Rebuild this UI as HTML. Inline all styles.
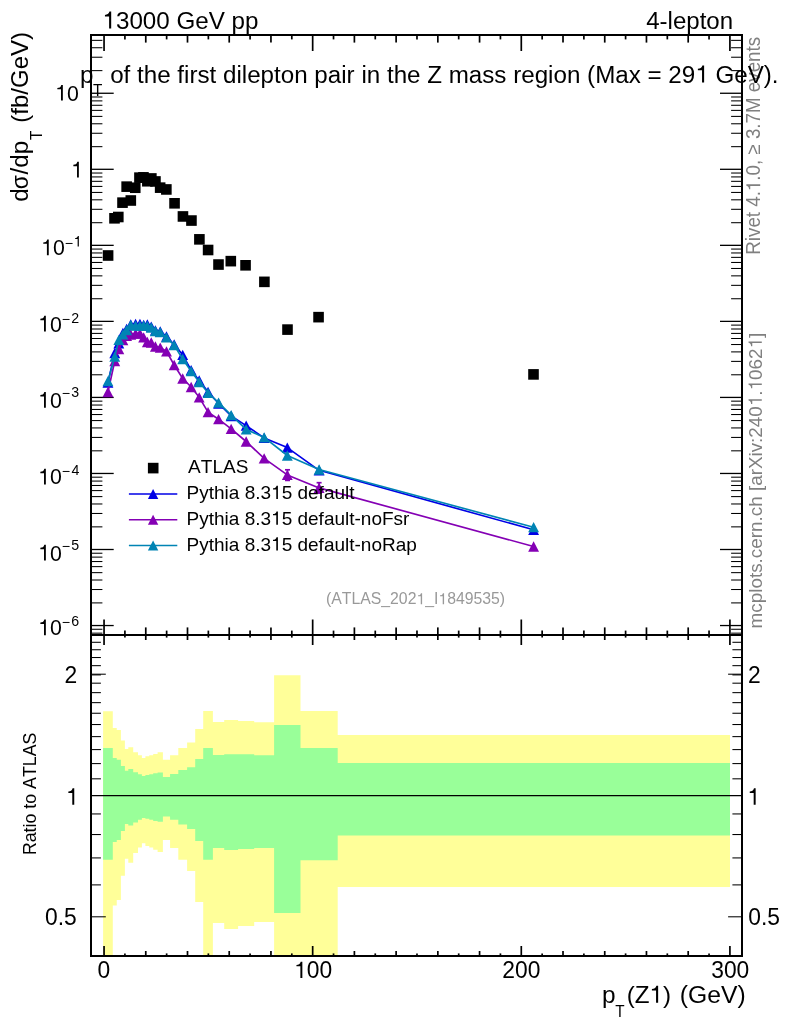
<!DOCTYPE html>
<html><head><meta charset="utf-8"><title>pT(Z1)</title>
<style>html,body{margin:0;padding:0;background:#fff;overflow:hidden;} svg{display:block;will-change:transform;} text{font-family:"Liberation Sans",sans-serif;font-kerning:none;}</style>
</head><body>
<svg width="786" height="1024" viewBox="0 0 786 1024">
<rect width="786" height="1024" fill="#fff"/>
<path d="M103.10,711.20 L112.80,711.20 L112.80,728.10 L116.75,728.10 L116.75,730.10 L120.90,730.10 L120.90,740.50 L124.90,740.50 L124.90,749.00 L128.30,749.00 L128.30,747.20 L133.20,747.20 L133.20,752.20 L138.00,752.20 L138.00,755.20 L141.90,755.20 L141.90,758.10 L145.40,758.10 L145.40,756.20 L149.30,756.20 L149.30,755.20 L153.20,755.20 L153.20,754.00 L157.60,754.00 L157.60,752.20 L162.90,752.20 L162.90,759.80 L170.06,759.80 L170.06,755.20 L178.30,755.20 L178.30,748.00 L187.10,748.00 L187.10,742.50 L195.20,742.50 L195.20,729.10 L203.20,729.10 L203.20,711.00 L212.90,711.00 L212.90,721.90 L224.20,721.90 L224.20,720.10 L238.10,720.10 L238.10,721.00 L254.20,721.00 L254.20,722.20 L274.10,722.20 L274.10,675.30 L300.50,675.30 L300.50,711.00 L337.70,711.00 L337.70,735.00 L730.00,735.00 L730.00,887.00 L337.70,887.00 L337.70,956.00 L300.50,956.00 L300.50,956.00 L274.10,956.00 L274.10,922.00 L254.20,922.00 L254.20,926.00 L238.10,926.00 L238.10,928.90 L224.20,928.90 L224.20,923.00 L212.90,923.00 L212.90,956.00 L203.20,956.00 L203.20,902.00 L195.20,902.00 L195.20,871.00 L187.10,871.00 L187.10,859.80 L178.30,859.80 L178.30,848.00 L170.06,848.00 L170.06,840.00 L162.90,840.00 L162.90,852.00 L157.60,852.00 L157.60,849.70 L153.20,849.70 L153.20,847.50 L149.30,847.50 L149.30,846.10 L145.40,846.10 L145.40,843.20 L141.90,843.20 L141.90,847.50 L138.00,847.50 L138.00,852.90 L133.20,852.90 L133.20,862.80 L128.30,862.80 L128.30,858.80 L124.90,858.80 L124.90,875.80 L120.90,875.80 L120.90,900.00 L116.75,900.00 L116.75,905.50 L112.80,905.50 L112.80,956.00 L103.10,956.00 Z" fill="#ffff99"/>
<path d="M103.10,748.00 L112.80,748.00 L112.80,758.10 L116.75,758.10 L116.75,759.80 L120.90,759.80 L120.90,765.90 L124.90,765.90 L124.90,770.80 L128.30,770.80 L128.30,769.00 L133.20,769.00 L133.20,772.30 L138.00,772.30 L138.00,774.20 L141.90,774.20 L141.90,776.00 L145.40,776.00 L145.40,774.90 L149.30,774.90 L149.30,774.20 L153.20,774.20 L153.20,773.20 L157.60,773.20 L157.60,772.50 L162.90,772.50 L162.90,777.00 L170.06,777.00 L170.06,774.00 L178.30,774.00 L178.30,770.10 L187.10,770.10 L187.10,767.20 L195.20,767.20 L195.20,759.10 L203.20,759.10 L203.20,748.10 L212.90,748.10 L212.90,754.90 L224.20,754.90 L224.20,754.20 L238.10,754.20 L238.10,754.20 L254.20,754.20 L254.20,755.20 L274.10,755.20 L274.10,724.95 L300.50,724.95 L300.50,748.00 L337.70,748.00 L337.70,763.00 L730.00,763.00 L730.00,835.50 L337.70,835.50 L337.70,860.30 L300.50,860.30 L300.50,913.00 L274.10,913.00 L274.10,848.00 L254.20,848.00 L254.20,849.00 L238.10,849.00 L238.10,849.90 L224.20,849.90 L224.20,848.00 L212.90,848.00 L212.90,859.80 L203.20,859.80 L203.20,840.90 L195.20,840.90 L195.20,829.00 L187.10,829.00 L187.10,824.50 L178.30,824.50 L178.30,819.70 L170.06,819.70 L170.06,816.50 L162.90,816.50 L162.90,821.80 L157.60,821.80 L157.60,820.90 L153.20,820.90 L153.20,819.70 L149.30,819.70 L149.30,818.80 L145.40,818.80 L145.40,817.90 L141.90,817.90 L141.90,819.70 L138.00,819.70 L138.00,822.40 L133.20,822.40 L133.20,825.60 L128.30,825.60 L128.30,824.10 L124.90,824.10 L124.90,831.10 L120.90,831.10 L120.90,840.10 L116.75,840.10 L116.75,842.00 L112.80,842.00 L112.80,859.70 L103.10,859.70 Z" fill="#99ff99"/>
<line x1="91.0" y1="795.6" x2="742.0" y2="795.6" stroke="#000" stroke-width="1.3"/>
<line x1="104.05" y1="35.00" x2="104.05" y2="51.00" stroke="#000" stroke-width="1.7"/>
<line x1="104.05" y1="619.50" x2="104.05" y2="635.00" stroke="#000" stroke-width="1.7"/>
<line x1="124.91" y1="35.00" x2="124.91" y2="39.40" stroke="#000" stroke-width="1.7"/>
<line x1="124.91" y1="630.60" x2="124.91" y2="635.00" stroke="#000" stroke-width="1.7"/>
<line x1="145.77" y1="35.00" x2="145.77" y2="42.60" stroke="#000" stroke-width="1.7"/>
<line x1="145.77" y1="627.40" x2="145.77" y2="635.00" stroke="#000" stroke-width="1.7"/>
<line x1="166.64" y1="35.00" x2="166.64" y2="39.40" stroke="#000" stroke-width="1.7"/>
<line x1="166.64" y1="630.60" x2="166.64" y2="635.00" stroke="#000" stroke-width="1.7"/>
<line x1="187.50" y1="35.00" x2="187.50" y2="42.60" stroke="#000" stroke-width="1.7"/>
<line x1="187.50" y1="627.40" x2="187.50" y2="635.00" stroke="#000" stroke-width="1.7"/>
<line x1="208.36" y1="35.00" x2="208.36" y2="39.40" stroke="#000" stroke-width="1.7"/>
<line x1="208.36" y1="630.60" x2="208.36" y2="635.00" stroke="#000" stroke-width="1.7"/>
<line x1="229.22" y1="35.00" x2="229.22" y2="42.60" stroke="#000" stroke-width="1.7"/>
<line x1="229.22" y1="627.40" x2="229.22" y2="635.00" stroke="#000" stroke-width="1.7"/>
<line x1="250.08" y1="35.00" x2="250.08" y2="39.40" stroke="#000" stroke-width="1.7"/>
<line x1="250.08" y1="630.60" x2="250.08" y2="635.00" stroke="#000" stroke-width="1.7"/>
<line x1="270.95" y1="35.00" x2="270.95" y2="42.60" stroke="#000" stroke-width="1.7"/>
<line x1="270.95" y1="627.40" x2="270.95" y2="635.00" stroke="#000" stroke-width="1.7"/>
<line x1="291.81" y1="35.00" x2="291.81" y2="39.40" stroke="#000" stroke-width="1.7"/>
<line x1="291.81" y1="630.60" x2="291.81" y2="635.00" stroke="#000" stroke-width="1.7"/>
<line x1="312.67" y1="35.00" x2="312.67" y2="51.00" stroke="#000" stroke-width="1.7"/>
<line x1="312.67" y1="619.50" x2="312.67" y2="635.00" stroke="#000" stroke-width="1.7"/>
<line x1="333.53" y1="35.00" x2="333.53" y2="39.40" stroke="#000" stroke-width="1.7"/>
<line x1="333.53" y1="630.60" x2="333.53" y2="635.00" stroke="#000" stroke-width="1.7"/>
<line x1="354.39" y1="35.00" x2="354.39" y2="42.60" stroke="#000" stroke-width="1.7"/>
<line x1="354.39" y1="627.40" x2="354.39" y2="635.00" stroke="#000" stroke-width="1.7"/>
<line x1="375.26" y1="35.00" x2="375.26" y2="39.40" stroke="#000" stroke-width="1.7"/>
<line x1="375.26" y1="630.60" x2="375.26" y2="635.00" stroke="#000" stroke-width="1.7"/>
<line x1="396.12" y1="35.00" x2="396.12" y2="42.60" stroke="#000" stroke-width="1.7"/>
<line x1="396.12" y1="627.40" x2="396.12" y2="635.00" stroke="#000" stroke-width="1.7"/>
<line x1="416.98" y1="35.00" x2="416.98" y2="39.40" stroke="#000" stroke-width="1.7"/>
<line x1="416.98" y1="630.60" x2="416.98" y2="635.00" stroke="#000" stroke-width="1.7"/>
<line x1="437.84" y1="35.00" x2="437.84" y2="42.60" stroke="#000" stroke-width="1.7"/>
<line x1="437.84" y1="627.40" x2="437.84" y2="635.00" stroke="#000" stroke-width="1.7"/>
<line x1="458.70" y1="35.00" x2="458.70" y2="39.40" stroke="#000" stroke-width="1.7"/>
<line x1="458.70" y1="630.60" x2="458.70" y2="635.00" stroke="#000" stroke-width="1.7"/>
<line x1="479.57" y1="35.00" x2="479.57" y2="42.60" stroke="#000" stroke-width="1.7"/>
<line x1="479.57" y1="627.40" x2="479.57" y2="635.00" stroke="#000" stroke-width="1.7"/>
<line x1="500.43" y1="35.00" x2="500.43" y2="39.40" stroke="#000" stroke-width="1.7"/>
<line x1="500.43" y1="630.60" x2="500.43" y2="635.00" stroke="#000" stroke-width="1.7"/>
<line x1="521.29" y1="35.00" x2="521.29" y2="51.00" stroke="#000" stroke-width="1.7"/>
<line x1="521.29" y1="619.50" x2="521.29" y2="635.00" stroke="#000" stroke-width="1.7"/>
<line x1="542.15" y1="35.00" x2="542.15" y2="39.40" stroke="#000" stroke-width="1.7"/>
<line x1="542.15" y1="630.60" x2="542.15" y2="635.00" stroke="#000" stroke-width="1.7"/>
<line x1="563.01" y1="35.00" x2="563.01" y2="42.60" stroke="#000" stroke-width="1.7"/>
<line x1="563.01" y1="627.40" x2="563.01" y2="635.00" stroke="#000" stroke-width="1.7"/>
<line x1="583.88" y1="35.00" x2="583.88" y2="39.40" stroke="#000" stroke-width="1.7"/>
<line x1="583.88" y1="630.60" x2="583.88" y2="635.00" stroke="#000" stroke-width="1.7"/>
<line x1="604.74" y1="35.00" x2="604.74" y2="42.60" stroke="#000" stroke-width="1.7"/>
<line x1="604.74" y1="627.40" x2="604.74" y2="635.00" stroke="#000" stroke-width="1.7"/>
<line x1="625.60" y1="35.00" x2="625.60" y2="39.40" stroke="#000" stroke-width="1.7"/>
<line x1="625.60" y1="630.60" x2="625.60" y2="635.00" stroke="#000" stroke-width="1.7"/>
<line x1="646.46" y1="35.00" x2="646.46" y2="42.60" stroke="#000" stroke-width="1.7"/>
<line x1="646.46" y1="627.40" x2="646.46" y2="635.00" stroke="#000" stroke-width="1.7"/>
<line x1="667.32" y1="35.00" x2="667.32" y2="39.40" stroke="#000" stroke-width="1.7"/>
<line x1="667.32" y1="630.60" x2="667.32" y2="635.00" stroke="#000" stroke-width="1.7"/>
<line x1="688.19" y1="35.00" x2="688.19" y2="42.60" stroke="#000" stroke-width="1.7"/>
<line x1="688.19" y1="627.40" x2="688.19" y2="635.00" stroke="#000" stroke-width="1.7"/>
<line x1="709.05" y1="35.00" x2="709.05" y2="39.40" stroke="#000" stroke-width="1.7"/>
<line x1="709.05" y1="630.60" x2="709.05" y2="635.00" stroke="#000" stroke-width="1.7"/>
<line x1="729.91" y1="35.00" x2="729.91" y2="51.00" stroke="#000" stroke-width="1.7"/>
<line x1="729.91" y1="619.50" x2="729.91" y2="635.00" stroke="#000" stroke-width="1.7"/>
<line x1="104.05" y1="635.00" x2="104.05" y2="645.00" stroke="#000" stroke-width="1.7"/>
<line x1="104.05" y1="946.00" x2="104.05" y2="956.00" stroke="#000" stroke-width="1.7"/>
<line x1="124.91" y1="635.00" x2="124.91" y2="637.60" stroke="#000" stroke-width="1.7"/>
<line x1="124.91" y1="953.40" x2="124.91" y2="956.00" stroke="#000" stroke-width="1.7"/>
<line x1="145.77" y1="635.00" x2="145.77" y2="640.00" stroke="#000" stroke-width="1.7"/>
<line x1="145.77" y1="951.00" x2="145.77" y2="956.00" stroke="#000" stroke-width="1.7"/>
<line x1="166.64" y1="635.00" x2="166.64" y2="637.60" stroke="#000" stroke-width="1.7"/>
<line x1="166.64" y1="953.40" x2="166.64" y2="956.00" stroke="#000" stroke-width="1.7"/>
<line x1="187.50" y1="635.00" x2="187.50" y2="640.00" stroke="#000" stroke-width="1.7"/>
<line x1="187.50" y1="951.00" x2="187.50" y2="956.00" stroke="#000" stroke-width="1.7"/>
<line x1="208.36" y1="635.00" x2="208.36" y2="637.60" stroke="#000" stroke-width="1.7"/>
<line x1="208.36" y1="953.40" x2="208.36" y2="956.00" stroke="#000" stroke-width="1.7"/>
<line x1="229.22" y1="635.00" x2="229.22" y2="640.00" stroke="#000" stroke-width="1.7"/>
<line x1="229.22" y1="951.00" x2="229.22" y2="956.00" stroke="#000" stroke-width="1.7"/>
<line x1="250.08" y1="635.00" x2="250.08" y2="637.60" stroke="#000" stroke-width="1.7"/>
<line x1="250.08" y1="953.40" x2="250.08" y2="956.00" stroke="#000" stroke-width="1.7"/>
<line x1="270.95" y1="635.00" x2="270.95" y2="640.00" stroke="#000" stroke-width="1.7"/>
<line x1="270.95" y1="951.00" x2="270.95" y2="956.00" stroke="#000" stroke-width="1.7"/>
<line x1="291.81" y1="635.00" x2="291.81" y2="637.60" stroke="#000" stroke-width="1.7"/>
<line x1="291.81" y1="953.40" x2="291.81" y2="956.00" stroke="#000" stroke-width="1.7"/>
<line x1="312.67" y1="635.00" x2="312.67" y2="645.00" stroke="#000" stroke-width="1.7"/>
<line x1="312.67" y1="946.00" x2="312.67" y2="956.00" stroke="#000" stroke-width="1.7"/>
<line x1="333.53" y1="635.00" x2="333.53" y2="637.60" stroke="#000" stroke-width="1.7"/>
<line x1="333.53" y1="953.40" x2="333.53" y2="956.00" stroke="#000" stroke-width="1.7"/>
<line x1="354.39" y1="635.00" x2="354.39" y2="640.00" stroke="#000" stroke-width="1.7"/>
<line x1="354.39" y1="951.00" x2="354.39" y2="956.00" stroke="#000" stroke-width="1.7"/>
<line x1="375.26" y1="635.00" x2="375.26" y2="637.60" stroke="#000" stroke-width="1.7"/>
<line x1="375.26" y1="953.40" x2="375.26" y2="956.00" stroke="#000" stroke-width="1.7"/>
<line x1="396.12" y1="635.00" x2="396.12" y2="640.00" stroke="#000" stroke-width="1.7"/>
<line x1="396.12" y1="951.00" x2="396.12" y2="956.00" stroke="#000" stroke-width="1.7"/>
<line x1="416.98" y1="635.00" x2="416.98" y2="637.60" stroke="#000" stroke-width="1.7"/>
<line x1="416.98" y1="953.40" x2="416.98" y2="956.00" stroke="#000" stroke-width="1.7"/>
<line x1="437.84" y1="635.00" x2="437.84" y2="640.00" stroke="#000" stroke-width="1.7"/>
<line x1="437.84" y1="951.00" x2="437.84" y2="956.00" stroke="#000" stroke-width="1.7"/>
<line x1="458.70" y1="635.00" x2="458.70" y2="637.60" stroke="#000" stroke-width="1.7"/>
<line x1="458.70" y1="953.40" x2="458.70" y2="956.00" stroke="#000" stroke-width="1.7"/>
<line x1="479.57" y1="635.00" x2="479.57" y2="640.00" stroke="#000" stroke-width="1.7"/>
<line x1="479.57" y1="951.00" x2="479.57" y2="956.00" stroke="#000" stroke-width="1.7"/>
<line x1="500.43" y1="635.00" x2="500.43" y2="637.60" stroke="#000" stroke-width="1.7"/>
<line x1="500.43" y1="953.40" x2="500.43" y2="956.00" stroke="#000" stroke-width="1.7"/>
<line x1="521.29" y1="635.00" x2="521.29" y2="645.00" stroke="#000" stroke-width="1.7"/>
<line x1="521.29" y1="946.00" x2="521.29" y2="956.00" stroke="#000" stroke-width="1.7"/>
<line x1="542.15" y1="635.00" x2="542.15" y2="637.60" stroke="#000" stroke-width="1.7"/>
<line x1="542.15" y1="953.40" x2="542.15" y2="956.00" stroke="#000" stroke-width="1.7"/>
<line x1="563.01" y1="635.00" x2="563.01" y2="640.00" stroke="#000" stroke-width="1.7"/>
<line x1="563.01" y1="951.00" x2="563.01" y2="956.00" stroke="#000" stroke-width="1.7"/>
<line x1="583.88" y1="635.00" x2="583.88" y2="637.60" stroke="#000" stroke-width="1.7"/>
<line x1="583.88" y1="953.40" x2="583.88" y2="956.00" stroke="#000" stroke-width="1.7"/>
<line x1="604.74" y1="635.00" x2="604.74" y2="640.00" stroke="#000" stroke-width="1.7"/>
<line x1="604.74" y1="951.00" x2="604.74" y2="956.00" stroke="#000" stroke-width="1.7"/>
<line x1="625.60" y1="635.00" x2="625.60" y2="637.60" stroke="#000" stroke-width="1.7"/>
<line x1="625.60" y1="953.40" x2="625.60" y2="956.00" stroke="#000" stroke-width="1.7"/>
<line x1="646.46" y1="635.00" x2="646.46" y2="640.00" stroke="#000" stroke-width="1.7"/>
<line x1="646.46" y1="951.00" x2="646.46" y2="956.00" stroke="#000" stroke-width="1.7"/>
<line x1="667.32" y1="635.00" x2="667.32" y2="637.60" stroke="#000" stroke-width="1.7"/>
<line x1="667.32" y1="953.40" x2="667.32" y2="956.00" stroke="#000" stroke-width="1.7"/>
<line x1="688.19" y1="635.00" x2="688.19" y2="640.00" stroke="#000" stroke-width="1.7"/>
<line x1="688.19" y1="951.00" x2="688.19" y2="956.00" stroke="#000" stroke-width="1.7"/>
<line x1="709.05" y1="635.00" x2="709.05" y2="637.60" stroke="#000" stroke-width="1.7"/>
<line x1="709.05" y1="953.40" x2="709.05" y2="956.00" stroke="#000" stroke-width="1.7"/>
<line x1="729.91" y1="635.00" x2="729.91" y2="645.00" stroke="#000" stroke-width="1.7"/>
<line x1="729.91" y1="946.00" x2="729.91" y2="956.00" stroke="#000" stroke-width="1.7"/>
<line x1="91.00" y1="633.16" x2="102.40" y2="633.16" stroke="#000" stroke-width="1.05"/>
<line x1="731.10" y1="633.16" x2="742.00" y2="633.16" stroke="#000" stroke-width="1.05"/>
<line x1="91.00" y1="629.27" x2="102.40" y2="629.27" stroke="#000" stroke-width="1.05"/>
<line x1="731.10" y1="629.27" x2="742.00" y2="629.27" stroke="#000" stroke-width="1.05"/>
<line x1="91.00" y1="625.54" x2="113.70" y2="625.54" stroke="#000" stroke-width="1.3"/>
<line x1="720.00" y1="625.54" x2="742.00" y2="625.54" stroke="#000" stroke-width="1.3"/>
<line x1="91.00" y1="602.90" x2="102.40" y2="602.90" stroke="#000" stroke-width="1.05"/>
<line x1="731.10" y1="602.90" x2="742.00" y2="602.90" stroke="#000" stroke-width="1.05"/>
<line x1="91.00" y1="589.51" x2="102.40" y2="589.51" stroke="#000" stroke-width="1.05"/>
<line x1="731.10" y1="589.51" x2="742.00" y2="589.51" stroke="#000" stroke-width="1.05"/>
<line x1="91.00" y1="580.01" x2="102.40" y2="580.01" stroke="#000" stroke-width="1.05"/>
<line x1="731.10" y1="580.01" x2="742.00" y2="580.01" stroke="#000" stroke-width="1.05"/>
<line x1="91.00" y1="572.64" x2="102.40" y2="572.64" stroke="#000" stroke-width="1.05"/>
<line x1="731.10" y1="572.64" x2="742.00" y2="572.64" stroke="#000" stroke-width="1.05"/>
<line x1="91.00" y1="566.62" x2="102.40" y2="566.62" stroke="#000" stroke-width="1.05"/>
<line x1="731.10" y1="566.62" x2="742.00" y2="566.62" stroke="#000" stroke-width="1.05"/>
<line x1="91.00" y1="561.53" x2="102.40" y2="561.53" stroke="#000" stroke-width="1.05"/>
<line x1="731.10" y1="561.53" x2="742.00" y2="561.53" stroke="#000" stroke-width="1.05"/>
<line x1="91.00" y1="557.12" x2="102.40" y2="557.12" stroke="#000" stroke-width="1.05"/>
<line x1="731.10" y1="557.12" x2="742.00" y2="557.12" stroke="#000" stroke-width="1.05"/>
<line x1="91.00" y1="553.23" x2="102.40" y2="553.23" stroke="#000" stroke-width="1.05"/>
<line x1="731.10" y1="553.23" x2="742.00" y2="553.23" stroke="#000" stroke-width="1.05"/>
<line x1="91.00" y1="549.50" x2="113.70" y2="549.50" stroke="#000" stroke-width="1.3"/>
<line x1="720.00" y1="549.50" x2="742.00" y2="549.50" stroke="#000" stroke-width="1.3"/>
<line x1="91.00" y1="526.86" x2="102.40" y2="526.86" stroke="#000" stroke-width="1.05"/>
<line x1="731.10" y1="526.86" x2="742.00" y2="526.86" stroke="#000" stroke-width="1.05"/>
<line x1="91.00" y1="513.47" x2="102.40" y2="513.47" stroke="#000" stroke-width="1.05"/>
<line x1="731.10" y1="513.47" x2="742.00" y2="513.47" stroke="#000" stroke-width="1.05"/>
<line x1="91.00" y1="503.97" x2="102.40" y2="503.97" stroke="#000" stroke-width="1.05"/>
<line x1="731.10" y1="503.97" x2="742.00" y2="503.97" stroke="#000" stroke-width="1.05"/>
<line x1="91.00" y1="496.60" x2="102.40" y2="496.60" stroke="#000" stroke-width="1.05"/>
<line x1="731.10" y1="496.60" x2="742.00" y2="496.60" stroke="#000" stroke-width="1.05"/>
<line x1="91.00" y1="490.58" x2="102.40" y2="490.58" stroke="#000" stroke-width="1.05"/>
<line x1="731.10" y1="490.58" x2="742.00" y2="490.58" stroke="#000" stroke-width="1.05"/>
<line x1="91.00" y1="485.49" x2="102.40" y2="485.49" stroke="#000" stroke-width="1.05"/>
<line x1="731.10" y1="485.49" x2="742.00" y2="485.49" stroke="#000" stroke-width="1.05"/>
<line x1="91.00" y1="481.08" x2="102.40" y2="481.08" stroke="#000" stroke-width="1.05"/>
<line x1="731.10" y1="481.08" x2="742.00" y2="481.08" stroke="#000" stroke-width="1.05"/>
<line x1="91.00" y1="477.19" x2="102.40" y2="477.19" stroke="#000" stroke-width="1.05"/>
<line x1="731.10" y1="477.19" x2="742.00" y2="477.19" stroke="#000" stroke-width="1.05"/>
<line x1="91.00" y1="473.46" x2="113.70" y2="473.46" stroke="#000" stroke-width="1.3"/>
<line x1="720.00" y1="473.46" x2="742.00" y2="473.46" stroke="#000" stroke-width="1.3"/>
<line x1="91.00" y1="450.82" x2="102.40" y2="450.82" stroke="#000" stroke-width="1.05"/>
<line x1="731.10" y1="450.82" x2="742.00" y2="450.82" stroke="#000" stroke-width="1.05"/>
<line x1="91.00" y1="437.43" x2="102.40" y2="437.43" stroke="#000" stroke-width="1.05"/>
<line x1="731.10" y1="437.43" x2="742.00" y2="437.43" stroke="#000" stroke-width="1.05"/>
<line x1="91.00" y1="427.93" x2="102.40" y2="427.93" stroke="#000" stroke-width="1.05"/>
<line x1="731.10" y1="427.93" x2="742.00" y2="427.93" stroke="#000" stroke-width="1.05"/>
<line x1="91.00" y1="420.56" x2="102.40" y2="420.56" stroke="#000" stroke-width="1.05"/>
<line x1="731.10" y1="420.56" x2="742.00" y2="420.56" stroke="#000" stroke-width="1.05"/>
<line x1="91.00" y1="414.54" x2="102.40" y2="414.54" stroke="#000" stroke-width="1.05"/>
<line x1="731.10" y1="414.54" x2="742.00" y2="414.54" stroke="#000" stroke-width="1.05"/>
<line x1="91.00" y1="409.45" x2="102.40" y2="409.45" stroke="#000" stroke-width="1.05"/>
<line x1="731.10" y1="409.45" x2="742.00" y2="409.45" stroke="#000" stroke-width="1.05"/>
<line x1="91.00" y1="405.04" x2="102.40" y2="405.04" stroke="#000" stroke-width="1.05"/>
<line x1="731.10" y1="405.04" x2="742.00" y2="405.04" stroke="#000" stroke-width="1.05"/>
<line x1="91.00" y1="401.15" x2="102.40" y2="401.15" stroke="#000" stroke-width="1.05"/>
<line x1="731.10" y1="401.15" x2="742.00" y2="401.15" stroke="#000" stroke-width="1.05"/>
<line x1="91.00" y1="397.42" x2="113.70" y2="397.42" stroke="#000" stroke-width="1.3"/>
<line x1="720.00" y1="397.42" x2="742.00" y2="397.42" stroke="#000" stroke-width="1.3"/>
<line x1="91.00" y1="374.78" x2="102.40" y2="374.78" stroke="#000" stroke-width="1.05"/>
<line x1="731.10" y1="374.78" x2="742.00" y2="374.78" stroke="#000" stroke-width="1.05"/>
<line x1="91.00" y1="361.39" x2="102.40" y2="361.39" stroke="#000" stroke-width="1.05"/>
<line x1="731.10" y1="361.39" x2="742.00" y2="361.39" stroke="#000" stroke-width="1.05"/>
<line x1="91.00" y1="351.89" x2="102.40" y2="351.89" stroke="#000" stroke-width="1.05"/>
<line x1="731.10" y1="351.89" x2="742.00" y2="351.89" stroke="#000" stroke-width="1.05"/>
<line x1="91.00" y1="344.52" x2="102.40" y2="344.52" stroke="#000" stroke-width="1.05"/>
<line x1="731.10" y1="344.52" x2="742.00" y2="344.52" stroke="#000" stroke-width="1.05"/>
<line x1="91.00" y1="338.50" x2="102.40" y2="338.50" stroke="#000" stroke-width="1.05"/>
<line x1="731.10" y1="338.50" x2="742.00" y2="338.50" stroke="#000" stroke-width="1.05"/>
<line x1="91.00" y1="333.41" x2="102.40" y2="333.41" stroke="#000" stroke-width="1.05"/>
<line x1="731.10" y1="333.41" x2="742.00" y2="333.41" stroke="#000" stroke-width="1.05"/>
<line x1="91.00" y1="329.00" x2="102.40" y2="329.00" stroke="#000" stroke-width="1.05"/>
<line x1="731.10" y1="329.00" x2="742.00" y2="329.00" stroke="#000" stroke-width="1.05"/>
<line x1="91.00" y1="325.11" x2="102.40" y2="325.11" stroke="#000" stroke-width="1.05"/>
<line x1="731.10" y1="325.11" x2="742.00" y2="325.11" stroke="#000" stroke-width="1.05"/>
<line x1="91.00" y1="321.38" x2="113.70" y2="321.38" stroke="#000" stroke-width="1.3"/>
<line x1="720.00" y1="321.38" x2="742.00" y2="321.38" stroke="#000" stroke-width="1.3"/>
<line x1="91.00" y1="298.74" x2="102.40" y2="298.74" stroke="#000" stroke-width="1.05"/>
<line x1="731.10" y1="298.74" x2="742.00" y2="298.74" stroke="#000" stroke-width="1.05"/>
<line x1="91.00" y1="285.35" x2="102.40" y2="285.35" stroke="#000" stroke-width="1.05"/>
<line x1="731.10" y1="285.35" x2="742.00" y2="285.35" stroke="#000" stroke-width="1.05"/>
<line x1="91.00" y1="275.85" x2="102.40" y2="275.85" stroke="#000" stroke-width="1.05"/>
<line x1="731.10" y1="275.85" x2="742.00" y2="275.85" stroke="#000" stroke-width="1.05"/>
<line x1="91.00" y1="268.48" x2="102.40" y2="268.48" stroke="#000" stroke-width="1.05"/>
<line x1="731.10" y1="268.48" x2="742.00" y2="268.48" stroke="#000" stroke-width="1.05"/>
<line x1="91.00" y1="262.46" x2="102.40" y2="262.46" stroke="#000" stroke-width="1.05"/>
<line x1="731.10" y1="262.46" x2="742.00" y2="262.46" stroke="#000" stroke-width="1.05"/>
<line x1="91.00" y1="257.37" x2="102.40" y2="257.37" stroke="#000" stroke-width="1.05"/>
<line x1="731.10" y1="257.37" x2="742.00" y2="257.37" stroke="#000" stroke-width="1.05"/>
<line x1="91.00" y1="252.96" x2="102.40" y2="252.96" stroke="#000" stroke-width="1.05"/>
<line x1="731.10" y1="252.96" x2="742.00" y2="252.96" stroke="#000" stroke-width="1.05"/>
<line x1="91.00" y1="249.07" x2="102.40" y2="249.07" stroke="#000" stroke-width="1.05"/>
<line x1="731.10" y1="249.07" x2="742.00" y2="249.07" stroke="#000" stroke-width="1.05"/>
<line x1="91.00" y1="245.34" x2="113.70" y2="245.34" stroke="#000" stroke-width="1.3"/>
<line x1="720.00" y1="245.34" x2="742.00" y2="245.34" stroke="#000" stroke-width="1.3"/>
<line x1="91.00" y1="222.70" x2="102.40" y2="222.70" stroke="#000" stroke-width="1.05"/>
<line x1="731.10" y1="222.70" x2="742.00" y2="222.70" stroke="#000" stroke-width="1.05"/>
<line x1="91.00" y1="209.31" x2="102.40" y2="209.31" stroke="#000" stroke-width="1.05"/>
<line x1="731.10" y1="209.31" x2="742.00" y2="209.31" stroke="#000" stroke-width="1.05"/>
<line x1="91.00" y1="199.81" x2="102.40" y2="199.81" stroke="#000" stroke-width="1.05"/>
<line x1="731.10" y1="199.81" x2="742.00" y2="199.81" stroke="#000" stroke-width="1.05"/>
<line x1="91.00" y1="192.44" x2="102.40" y2="192.44" stroke="#000" stroke-width="1.05"/>
<line x1="731.10" y1="192.44" x2="742.00" y2="192.44" stroke="#000" stroke-width="1.05"/>
<line x1="91.00" y1="186.42" x2="102.40" y2="186.42" stroke="#000" stroke-width="1.05"/>
<line x1="731.10" y1="186.42" x2="742.00" y2="186.42" stroke="#000" stroke-width="1.05"/>
<line x1="91.00" y1="181.33" x2="102.40" y2="181.33" stroke="#000" stroke-width="1.05"/>
<line x1="731.10" y1="181.33" x2="742.00" y2="181.33" stroke="#000" stroke-width="1.05"/>
<line x1="91.00" y1="176.92" x2="102.40" y2="176.92" stroke="#000" stroke-width="1.05"/>
<line x1="731.10" y1="176.92" x2="742.00" y2="176.92" stroke="#000" stroke-width="1.05"/>
<line x1="91.00" y1="173.03" x2="102.40" y2="173.03" stroke="#000" stroke-width="1.05"/>
<line x1="731.10" y1="173.03" x2="742.00" y2="173.03" stroke="#000" stroke-width="1.05"/>
<line x1="91.00" y1="169.30" x2="113.70" y2="169.30" stroke="#000" stroke-width="1.3"/>
<line x1="720.00" y1="169.30" x2="742.00" y2="169.30" stroke="#000" stroke-width="1.3"/>
<line x1="91.00" y1="146.66" x2="102.40" y2="146.66" stroke="#000" stroke-width="1.05"/>
<line x1="731.10" y1="146.66" x2="742.00" y2="146.66" stroke="#000" stroke-width="1.05"/>
<line x1="91.00" y1="133.27" x2="102.40" y2="133.27" stroke="#000" stroke-width="1.05"/>
<line x1="731.10" y1="133.27" x2="742.00" y2="133.27" stroke="#000" stroke-width="1.05"/>
<line x1="91.00" y1="123.77" x2="102.40" y2="123.77" stroke="#000" stroke-width="1.05"/>
<line x1="731.10" y1="123.77" x2="742.00" y2="123.77" stroke="#000" stroke-width="1.05"/>
<line x1="91.00" y1="116.40" x2="102.40" y2="116.40" stroke="#000" stroke-width="1.05"/>
<line x1="731.10" y1="116.40" x2="742.00" y2="116.40" stroke="#000" stroke-width="1.05"/>
<line x1="91.00" y1="110.38" x2="102.40" y2="110.38" stroke="#000" stroke-width="1.05"/>
<line x1="731.10" y1="110.38" x2="742.00" y2="110.38" stroke="#000" stroke-width="1.05"/>
<line x1="91.00" y1="105.29" x2="102.40" y2="105.29" stroke="#000" stroke-width="1.05"/>
<line x1="731.10" y1="105.29" x2="742.00" y2="105.29" stroke="#000" stroke-width="1.05"/>
<line x1="91.00" y1="100.88" x2="102.40" y2="100.88" stroke="#000" stroke-width="1.05"/>
<line x1="731.10" y1="100.88" x2="742.00" y2="100.88" stroke="#000" stroke-width="1.05"/>
<line x1="91.00" y1="96.99" x2="102.40" y2="96.99" stroke="#000" stroke-width="1.05"/>
<line x1="731.10" y1="96.99" x2="742.00" y2="96.99" stroke="#000" stroke-width="1.05"/>
<line x1="91.00" y1="93.26" x2="113.70" y2="93.26" stroke="#000" stroke-width="1.3"/>
<line x1="720.00" y1="93.26" x2="742.00" y2="93.26" stroke="#000" stroke-width="1.3"/>
<line x1="91.00" y1="70.62" x2="102.40" y2="70.62" stroke="#000" stroke-width="1.05"/>
<line x1="731.10" y1="70.62" x2="742.00" y2="70.62" stroke="#000" stroke-width="1.05"/>
<line x1="91.00" y1="57.23" x2="102.40" y2="57.23" stroke="#000" stroke-width="1.05"/>
<line x1="731.10" y1="57.23" x2="742.00" y2="57.23" stroke="#000" stroke-width="1.05"/>
<line x1="91.00" y1="47.73" x2="102.40" y2="47.73" stroke="#000" stroke-width="1.05"/>
<line x1="731.10" y1="47.73" x2="742.00" y2="47.73" stroke="#000" stroke-width="1.05"/>
<line x1="91.00" y1="40.36" x2="102.40" y2="40.36" stroke="#000" stroke-width="1.05"/>
<line x1="731.10" y1="40.36" x2="742.00" y2="40.36" stroke="#000" stroke-width="1.05"/>
<line x1="91.00" y1="916.80" x2="105.80" y2="916.80" stroke="#000" stroke-width="1.05"/>
<line x1="728.10" y1="916.80" x2="742.00" y2="916.80" stroke="#000" stroke-width="1.05"/>
<line x1="91.00" y1="884.89" x2="100.90" y2="884.89" stroke="#000" stroke-width="1.05"/>
<line x1="732.40" y1="884.89" x2="742.00" y2="884.89" stroke="#000" stroke-width="1.05"/>
<line x1="91.00" y1="857.92" x2="100.90" y2="857.92" stroke="#000" stroke-width="1.05"/>
<line x1="732.40" y1="857.92" x2="742.00" y2="857.92" stroke="#000" stroke-width="1.05"/>
<line x1="91.00" y1="834.55" x2="100.90" y2="834.55" stroke="#000" stroke-width="1.05"/>
<line x1="732.40" y1="834.55" x2="742.00" y2="834.55" stroke="#000" stroke-width="1.05"/>
<line x1="91.00" y1="813.94" x2="100.90" y2="813.94" stroke="#000" stroke-width="1.05"/>
<line x1="732.40" y1="813.94" x2="742.00" y2="813.94" stroke="#000" stroke-width="1.05"/>
<line x1="91.00" y1="795.50" x2="105.80" y2="795.50" stroke="#000" stroke-width="1.05"/>
<line x1="728.10" y1="795.50" x2="742.00" y2="795.50" stroke="#000" stroke-width="1.05"/>
<line x1="91.00" y1="778.82" x2="100.90" y2="778.82" stroke="#000" stroke-width="1.05"/>
<line x1="732.40" y1="778.82" x2="742.00" y2="778.82" stroke="#000" stroke-width="1.05"/>
<line x1="91.00" y1="763.59" x2="100.90" y2="763.59" stroke="#000" stroke-width="1.05"/>
<line x1="732.40" y1="763.59" x2="742.00" y2="763.59" stroke="#000" stroke-width="1.05"/>
<line x1="91.00" y1="749.59" x2="100.90" y2="749.59" stroke="#000" stroke-width="1.05"/>
<line x1="732.40" y1="749.59" x2="742.00" y2="749.59" stroke="#000" stroke-width="1.05"/>
<line x1="91.00" y1="736.62" x2="100.90" y2="736.62" stroke="#000" stroke-width="1.05"/>
<line x1="732.40" y1="736.62" x2="742.00" y2="736.62" stroke="#000" stroke-width="1.05"/>
<line x1="91.00" y1="724.54" x2="100.90" y2="724.54" stroke="#000" stroke-width="1.05"/>
<line x1="732.40" y1="724.54" x2="742.00" y2="724.54" stroke="#000" stroke-width="1.05"/>
<line x1="91.00" y1="713.25" x2="100.90" y2="713.25" stroke="#000" stroke-width="1.05"/>
<line x1="732.40" y1="713.25" x2="742.00" y2="713.25" stroke="#000" stroke-width="1.05"/>
<line x1="91.00" y1="702.64" x2="100.90" y2="702.64" stroke="#000" stroke-width="1.05"/>
<line x1="732.40" y1="702.64" x2="742.00" y2="702.64" stroke="#000" stroke-width="1.05"/>
<line x1="91.00" y1="692.64" x2="100.90" y2="692.64" stroke="#000" stroke-width="1.05"/>
<line x1="732.40" y1="692.64" x2="742.00" y2="692.64" stroke="#000" stroke-width="1.05"/>
<line x1="91.00" y1="683.18" x2="100.90" y2="683.18" stroke="#000" stroke-width="1.05"/>
<line x1="732.40" y1="683.18" x2="742.00" y2="683.18" stroke="#000" stroke-width="1.05"/>
<line x1="91.00" y1="674.20" x2="105.80" y2="674.20" stroke="#000" stroke-width="1.05"/>
<line x1="728.10" y1="674.20" x2="742.00" y2="674.20" stroke="#000" stroke-width="1.05"/>
<line x1="91.00" y1="674.90" x2="100.90" y2="674.90" stroke="#000" stroke-width="1.05"/>
<line x1="732.40" y1="674.90" x2="742.00" y2="674.90" stroke="#000" stroke-width="1.05"/>
<line x1="91.00" y1="665.66" x2="100.90" y2="665.66" stroke="#000" stroke-width="1.05"/>
<line x1="732.40" y1="665.66" x2="742.00" y2="665.66" stroke="#000" stroke-width="1.05"/>
<line x1="91.00" y1="657.52" x2="100.90" y2="657.52" stroke="#000" stroke-width="1.05"/>
<line x1="732.40" y1="657.52" x2="742.00" y2="657.52" stroke="#000" stroke-width="1.05"/>
<line x1="91.00" y1="649.74" x2="100.90" y2="649.74" stroke="#000" stroke-width="1.05"/>
<line x1="732.40" y1="649.74" x2="742.00" y2="649.74" stroke="#000" stroke-width="1.05"/>
<line x1="91.00" y1="642.29" x2="100.90" y2="642.29" stroke="#000" stroke-width="1.05"/>
<line x1="732.40" y1="642.29" x2="742.00" y2="642.29" stroke="#000" stroke-width="1.05"/>
<rect x="91.0" y="35.0" width="651.00" height="921.00" fill="none" stroke="#000" stroke-width="2.0"/>
<line x1="91.00" y1="635.00" x2="742.00" y2="635.00" stroke="#000" stroke-width="1.9"/>
<path d="M107.95,382.50 L114.78,353.00 L118.83,343.30 L122.90,333.00 L126.60,329.00 L130.75,324.50 L135.60,324.00 L139.95,324.00 L143.65,324.80 L147.35,324.50 L151.25,326.60 L155.40,330.40 L160.25,331.50 L166.48,336.50 L174.18,344.50 L182.70,354.80 L191.15,370.20 L199.20,380.50 L208.05,391.80 L218.55,403.50 L231.15,416.00 L246.15,425.60 L264.15,437.90 L287.30,447.60 L319.10,470.30 L533.60,529.80" fill="none" stroke="#0000e6" stroke-width="1.65" stroke-linejoin="round"/>
<path d="M102.50,387.65 L113.40,387.65 L107.95,377.35 Z" fill="#0000e6"/>
<path d="M109.33,358.15 L120.23,358.15 L114.78,347.85 Z" fill="#0000e6"/>
<path d="M113.38,348.45 L124.28,348.45 L118.83,338.15 Z" fill="#0000e6"/>
<path d="M117.45,338.15 L128.35,338.15 L122.90,327.85 Z" fill="#0000e6"/>
<path d="M121.15,334.15 L132.05,334.15 L126.60,323.85 Z" fill="#0000e6"/>
<path d="M125.30,329.65 L136.20,329.65 L130.75,319.35 Z" fill="#0000e6"/>
<path d="M130.15,329.15 L141.05,329.15 L135.60,318.85 Z" fill="#0000e6"/>
<path d="M134.50,329.15 L145.40,329.15 L139.95,318.85 Z" fill="#0000e6"/>
<path d="M138.20,329.95 L149.10,329.95 L143.65,319.65 Z" fill="#0000e6"/>
<path d="M141.90,329.65 L152.80,329.65 L147.35,319.35 Z" fill="#0000e6"/>
<path d="M145.80,331.75 L156.70,331.75 L151.25,321.45 Z" fill="#0000e6"/>
<path d="M149.95,335.55 L160.85,335.55 L155.40,325.25 Z" fill="#0000e6"/>
<path d="M154.80,336.65 L165.70,336.65 L160.25,326.35 Z" fill="#0000e6"/>
<path d="M161.03,341.65 L171.93,341.65 L166.48,331.35 Z" fill="#0000e6"/>
<path d="M168.73,349.65 L179.63,349.65 L174.18,339.35 Z" fill="#0000e6"/>
<path d="M177.25,359.95 L188.15,359.95 L182.70,349.65 Z" fill="#0000e6"/>
<path d="M185.70,375.35 L196.60,375.35 L191.15,365.05 Z" fill="#0000e6"/>
<path d="M193.75,385.65 L204.65,385.65 L199.20,375.35 Z" fill="#0000e6"/>
<path d="M202.60,396.95 L213.50,396.95 L208.05,386.65 Z" fill="#0000e6"/>
<path d="M213.10,408.65 L224.00,408.65 L218.55,398.35 Z" fill="#0000e6"/>
<path d="M225.70,421.15 L236.60,421.15 L231.15,410.85 Z" fill="#0000e6"/>
<path d="M240.70,430.75 L251.60,430.75 L246.15,420.45 Z" fill="#0000e6"/>
<path d="M258.70,443.05 L269.60,443.05 L264.15,432.75 Z" fill="#0000e6"/>
<path d="M281.85,452.75 L292.75,452.75 L287.30,442.45 Z" fill="#0000e6"/>
<path d="M313.65,475.45 L324.55,475.45 L319.10,465.15 Z" fill="#0000e6"/>
<path d="M528.15,534.95 L539.05,534.95 L533.60,524.65 Z" fill="#0000e6"/>
<path d="M107.95,392.00 L114.78,361.00 L118.83,349.00 L122.90,340.00 L126.60,335.90 L130.75,334.50 L135.60,333.60 L139.95,333.60 L143.65,337.40 L147.35,342.00 L151.25,342.50 L155.40,346.50 L160.25,347.60 L166.48,351.30 L174.18,365.00 L182.70,378.50 L191.15,387.00 L199.20,397.30 L208.05,412.20 L218.55,419.20 L231.15,428.80 L246.15,441.50 L264.15,458.40 L287.30,474.90 L319.10,487.90 L533.60,546.50" fill="none" stroke="#8400b4" stroke-width="1.65" stroke-linejoin="round"/>
<line x1="287.5" y1="469.8" x2="287.5" y2="480.40" stroke="#8400b4" stroke-width="1.6"/>
<line x1="285.0" y1="469.8" x2="290.0" y2="469.8" stroke="#8400b4" stroke-width="1.7"/>
<line x1="285.0" y1="480.40" x2="290.0" y2="480.40" stroke="#8400b4" stroke-width="1.7"/>
<line x1="319.1" y1="482.7" x2="319.1" y2="493.10" stroke="#8400b4" stroke-width="1.6"/>
<line x1="316.6" y1="482.7" x2="321.6" y2="482.7" stroke="#8400b4" stroke-width="1.7"/>
<line x1="316.6" y1="493.10" x2="321.6" y2="493.10" stroke="#8400b4" stroke-width="1.7"/>
<path d="M102.50,397.15 L113.40,397.15 L107.95,386.85 Z" fill="#8400b4"/>
<path d="M109.33,366.15 L120.23,366.15 L114.78,355.85 Z" fill="#8400b4"/>
<path d="M113.38,354.15 L124.28,354.15 L118.83,343.85 Z" fill="#8400b4"/>
<path d="M117.45,345.15 L128.35,345.15 L122.90,334.85 Z" fill="#8400b4"/>
<path d="M121.15,341.05 L132.05,341.05 L126.60,330.75 Z" fill="#8400b4"/>
<path d="M125.30,339.65 L136.20,339.65 L130.75,329.35 Z" fill="#8400b4"/>
<path d="M130.15,338.75 L141.05,338.75 L135.60,328.45 Z" fill="#8400b4"/>
<path d="M134.50,338.75 L145.40,338.75 L139.95,328.45 Z" fill="#8400b4"/>
<path d="M138.20,342.55 L149.10,342.55 L143.65,332.25 Z" fill="#8400b4"/>
<path d="M141.90,347.15 L152.80,347.15 L147.35,336.85 Z" fill="#8400b4"/>
<path d="M145.80,347.65 L156.70,347.65 L151.25,337.35 Z" fill="#8400b4"/>
<path d="M149.95,351.65 L160.85,351.65 L155.40,341.35 Z" fill="#8400b4"/>
<path d="M154.80,352.75 L165.70,352.75 L160.25,342.45 Z" fill="#8400b4"/>
<path d="M161.03,356.45 L171.93,356.45 L166.48,346.15 Z" fill="#8400b4"/>
<path d="M168.73,370.15 L179.63,370.15 L174.18,359.85 Z" fill="#8400b4"/>
<path d="M177.25,383.65 L188.15,383.65 L182.70,373.35 Z" fill="#8400b4"/>
<path d="M185.70,392.15 L196.60,392.15 L191.15,381.85 Z" fill="#8400b4"/>
<path d="M193.75,402.45 L204.65,402.45 L199.20,392.15 Z" fill="#8400b4"/>
<path d="M202.60,417.35 L213.50,417.35 L208.05,407.05 Z" fill="#8400b4"/>
<path d="M213.10,424.35 L224.00,424.35 L218.55,414.05 Z" fill="#8400b4"/>
<path d="M225.70,433.95 L236.60,433.95 L231.15,423.65 Z" fill="#8400b4"/>
<path d="M240.70,446.65 L251.60,446.65 L246.15,436.35 Z" fill="#8400b4"/>
<path d="M258.70,463.55 L269.60,463.55 L264.15,453.25 Z" fill="#8400b4"/>
<path d="M281.85,480.05 L292.75,480.05 L287.30,469.75 Z" fill="#8400b4"/>
<path d="M313.65,493.05 L324.55,493.05 L319.10,482.75 Z" fill="#8400b4"/>
<path d="M528.15,551.65 L539.05,551.65 L533.60,541.35 Z" fill="#8400b4"/>
<path d="M107.95,381.20 L114.78,356.60 L118.83,339.80 L122.90,334.30 L126.60,330.00 L130.75,325.00 L135.60,325.70 L139.95,325.70 L143.65,325.50 L147.35,325.80 L151.25,327.50 L155.40,331.00 L160.25,332.10 L166.48,337.40 L174.18,345.20 L182.70,359.00 L191.15,371.20 L199.20,382.00 L208.05,392.80 L218.55,402.70 L231.15,415.10 L246.15,429.40 L264.15,437.40 L287.30,455.50 L319.10,469.50 L533.60,527.20" fill="none" stroke="#0084b4" stroke-width="1.65" stroke-linejoin="round"/>
<path d="M102.50,386.35 L113.40,386.35 L107.95,376.05 Z" fill="#0084b4"/>
<path d="M109.33,361.75 L120.23,361.75 L114.78,351.45 Z" fill="#0084b4"/>
<path d="M113.38,344.95 L124.28,344.95 L118.83,334.65 Z" fill="#0084b4"/>
<path d="M117.45,339.45 L128.35,339.45 L122.90,329.15 Z" fill="#0084b4"/>
<path d="M121.15,335.15 L132.05,335.15 L126.60,324.85 Z" fill="#0084b4"/>
<path d="M125.30,330.15 L136.20,330.15 L130.75,319.85 Z" fill="#0084b4"/>
<path d="M130.15,330.85 L141.05,330.85 L135.60,320.55 Z" fill="#0084b4"/>
<path d="M134.50,330.85 L145.40,330.85 L139.95,320.55 Z" fill="#0084b4"/>
<path d="M138.20,330.65 L149.10,330.65 L143.65,320.35 Z" fill="#0084b4"/>
<path d="M141.90,330.95 L152.80,330.95 L147.35,320.65 Z" fill="#0084b4"/>
<path d="M145.80,332.65 L156.70,332.65 L151.25,322.35 Z" fill="#0084b4"/>
<path d="M149.95,336.15 L160.85,336.15 L155.40,325.85 Z" fill="#0084b4"/>
<path d="M154.80,337.25 L165.70,337.25 L160.25,326.95 Z" fill="#0084b4"/>
<path d="M161.03,342.55 L171.93,342.55 L166.48,332.25 Z" fill="#0084b4"/>
<path d="M168.73,350.35 L179.63,350.35 L174.18,340.05 Z" fill="#0084b4"/>
<path d="M177.25,364.15 L188.15,364.15 L182.70,353.85 Z" fill="#0084b4"/>
<path d="M185.70,376.35 L196.60,376.35 L191.15,366.05 Z" fill="#0084b4"/>
<path d="M193.75,387.15 L204.65,387.15 L199.20,376.85 Z" fill="#0084b4"/>
<path d="M202.60,397.95 L213.50,397.95 L208.05,387.65 Z" fill="#0084b4"/>
<path d="M213.10,407.85 L224.00,407.85 L218.55,397.55 Z" fill="#0084b4"/>
<path d="M225.70,420.25 L236.60,420.25 L231.15,409.95 Z" fill="#0084b4"/>
<path d="M240.70,434.55 L251.60,434.55 L246.15,424.25 Z" fill="#0084b4"/>
<path d="M258.70,442.55 L269.60,442.55 L264.15,432.25 Z" fill="#0084b4"/>
<path d="M281.85,460.65 L292.75,460.65 L287.30,450.35 Z" fill="#0084b4"/>
<path d="M313.65,474.65 L324.55,474.65 L319.10,464.35 Z" fill="#0084b4"/>
<path d="M528.15,532.35 L539.05,532.35 L533.60,522.05 Z" fill="#0084b4"/>
<rect x="102.80" y="250.20" width="10.6" height="10.6" fill="#000"/>
<rect x="109.20" y="213.00" width="10.6" height="10.6" fill="#000"/>
<rect x="113.00" y="211.70" width="10.6" height="10.6" fill="#000"/>
<rect x="117.20" y="197.35" width="10.6" height="10.6" fill="#000"/>
<rect x="121.35" y="181.35" width="10.6" height="10.6" fill="#000"/>
<rect x="125.50" y="195.20" width="10.6" height="10.6" fill="#000"/>
<rect x="129.95" y="182.45" width="10.6" height="10.6" fill="#000"/>
<rect x="134.15" y="172.35" width="10.6" height="10.6" fill="#000"/>
<rect x="138.15" y="172.05" width="10.6" height="10.6" fill="#000"/>
<rect x="142.05" y="175.95" width="10.6" height="10.6" fill="#000"/>
<rect x="146.05" y="173.15" width="10.6" height="10.6" fill="#000"/>
<rect x="150.15" y="176.15" width="10.6" height="10.6" fill="#000"/>
<rect x="154.85" y="182.35" width="10.6" height="10.6" fill="#000"/>
<rect x="161.05" y="184.15" width="10.6" height="10.6" fill="#000"/>
<rect x="169.25" y="198.00" width="10.6" height="10.6" fill="#000"/>
<rect x="177.65" y="211.15" width="10.6" height="10.6" fill="#000"/>
<rect x="186.15" y="215.25" width="10.6" height="10.6" fill="#000"/>
<rect x="194.10" y="234.05" width="10.6" height="10.6" fill="#000"/>
<rect x="202.80" y="244.70" width="10.6" height="10.6" fill="#000"/>
<rect x="213.20" y="259.25" width="10.6" height="10.6" fill="#000"/>
<rect x="225.50" y="255.85" width="10.6" height="10.6" fill="#000"/>
<rect x="240.25" y="260.00" width="10.6" height="10.6" fill="#000"/>
<rect x="259.10" y="276.55" width="10.6" height="10.6" fill="#000"/>
<rect x="282.20" y="324.30" width="10.6" height="10.6" fill="#000"/>
<rect x="313.25" y="311.85" width="10.6" height="10.6" fill="#000"/>
<rect x="528.20" y="369.10" width="10.6" height="10.6" fill="#000"/>
<rect x="147.90" y="462.80" width="10.6" height="10.6" fill="#000"/>
<line x1="128.9" y1="493.95" x2="177.3" y2="493.95" stroke="#0000e6" stroke-width="1.4"/>
<path d="M147.90,498.90 L158.30,498.90 L153.10,489.00 Z" fill="#0000e6"/>
<line x1="128.9" y1="519.75" x2="177.3" y2="519.75" stroke="#8400b4" stroke-width="1.4"/>
<path d="M147.90,524.70 L158.30,524.70 L153.10,514.80 Z" fill="#8400b4"/>
<line x1="128.9" y1="545.55" x2="177.3" y2="545.55" stroke="#0084b4" stroke-width="1.4"/>
<path d="M147.90,550.50 L158.30,550.50 L153.10,540.60 Z" fill="#0084b4"/>
<text x="188.11" y="473.00" font-size="19.0">ATLAS</text>
<text x="186.59" y="499.00" font-size="19.0">Pythia 8.3 5 default</text>
<path d="M277.91,485.64 L277.91,499.00 L276.28,499.00 L276.28,489.40 L273.01,489.40 L273.01,488.23 C274.76,488.15 276.07,487.68 276.54,485.64 Z" fill="#000"/>
<text x="186.59" y="524.80" font-size="19.0">Pythia 8.3 5 default-noFsr</text>
<path d="M277.91,511.44 L277.91,524.80 L276.28,524.80 L276.28,515.20 L273.01,515.20 L273.01,514.03 C274.76,513.95 276.07,513.48 276.54,511.44 Z" fill="#000"/>
<text x="186.59" y="550.60" font-size="19.0">Pythia 8.3 5 default-noRap</text>
<path d="M277.91,537.24 L277.91,550.60 L276.28,550.60 L276.28,541.00 L273.01,541.00 L273.01,539.83 C274.76,539.75 276.07,539.28 276.54,537.24 Z" fill="#000"/>
<g transform="translate(760.20,254.69) rotate(-90)"><text transform="translate(0.00,0.00) scale(1.0,1.05)" font-size="18.77" fill="#808080">Rivet 4. .0, ≥ 3.7M events</text>
<path d="M70.37,-13.86 L70.37,0.00 L68.76,0.00 L68.76,-9.95 L65.53,-9.95 L65.53,-11.17 C67.26,-11.25 68.55,-11.75 69.02,-13.86 Z" fill="#808080"/></g>
<g transform="translate(761.80,628.40) rotate(-90)"><text x="0.00" y="0.00" font-size="18.88" fill="#808080">mcplots.cern.ch [arXiv:240 . 062 ]</text>
<path d="M229.24,-13.27 L229.24,0.00 L227.61,0.00 L227.61,-9.53 L224.36,-9.53 L224.36,-10.70 C226.10,-10.78 227.40,-11.25 227.88,-13.27 Z" fill="#808080"/>
<path d="M244.98,-13.27 L244.98,0.00 L243.36,0.00 L243.36,-9.53 L240.11,-9.53 L240.11,-10.70 C241.85,-10.78 243.15,-11.25 243.62,-13.27 Z" fill="#808080"/>
<path d="M286.98,-13.27 L286.98,0.00 L285.36,0.00 L285.36,-9.53 L282.11,-9.53 L282.11,-10.70 C283.85,-10.78 285.15,-11.25 285.62,-13.27 Z" fill="#808080"/></g>
<text x="102.51" y="28.60" font-size="24.2"> 3000 GeV pp</text>
<path d="M111.19,11.59 L111.19,28.60 L109.11,28.60 L109.11,16.38 L104.95,16.38 L104.95,14.88 C107.18,14.78 108.85,14.18 109.45,11.59 Z" fill="#000"/>
<text x="646.20" y="28.60" font-size="24.05">4-lepton</text>
<text x="80.09" y="82.50" font-size="24.2">p</text>
<text transform="translate(93.11,95.60) scale(1.0,1.1)" font-size="15.3">T</text>
<text x="110.13" y="82.50" font-size="24.18">of the first dilepton pair in the Z mass region (Max = 29  GeV).</text>
<path d="M704.12,65.50 L704.12,82.50 L702.04,82.50 L702.04,70.29 L697.88,70.29 L697.88,68.79 C700.10,68.69 701.77,68.09 702.38,65.50 Z" fill="#000"/>
<text x="325.97" y="604.30" font-size="15.8" fill="#999999">(ATLAS_202 _I 849535)</text>
<path d="M422.11,593.19 L422.11,604.30 L420.75,604.30 L420.75,596.32 L418.03,596.32 L418.03,595.34 C419.48,595.28 420.57,594.88 420.97,593.19 Z" fill="#999999"/>
<path d="M444.07,593.19 L444.07,604.30 L442.71,604.30 L442.71,596.32 L439.99,596.32 L439.99,595.34 C441.45,595.28 442.54,594.88 442.93,593.19 Z" fill="#999999"/>
<text transform="translate(55.19,100.60) scale(1.0,1.05)" font-size="21.3"> 0</text>
<path d="M62.84,84.88 L62.84,100.60 L61.00,100.60 L61.00,89.31 L57.34,89.31 L57.34,87.92 C59.30,87.83 60.77,87.27 61.30,84.88 Z" fill="#000"/>
<path d="M78.85,161.83 L78.85,177.55 L77.02,177.55 L77.02,166.26 L73.35,166.26 L73.35,164.87 C75.31,164.78 76.78,164.22 77.32,161.83 Z" fill="#000"/>
<text transform="translate(41.10,255.14) scale(1.0,1.05)" font-size="21.3"> 0</text>
<path d="M48.75,239.42 L48.75,255.14 L46.91,255.14 L46.91,243.85 L43.25,243.85 L43.25,242.46 C45.21,242.37 46.68,241.81 47.21,239.42 Z" fill="#000"/>
<text x="64.75" y="247.59" font-size="14.2">−</text>
<path d="M78.85,236.01 L78.85,246.49 L77.63,246.49 L77.63,238.96 L75.19,238.96 L75.19,238.04 C76.49,237.98 77.47,237.60 77.83,236.01 Z" fill="#000"/>
<text transform="translate(38.20,331.53) scale(1.0,1.05)" font-size="21.3"> 0</text>
<path d="M45.85,315.81 L45.85,331.53 L44.01,331.53 L44.01,320.24 L40.35,320.24 L40.35,318.85 C42.31,318.76 43.78,318.20 44.31,315.81 Z" fill="#000"/>
<text x="61.85" y="323.83" font-size="14.2">−</text>
<text transform="translate(71.14,322.73) scale(1.0,1.05)" font-size="14.2">2</text>
<text transform="translate(38.20,407.77) scale(1.0,1.05)" font-size="21.3"> 0</text>
<path d="M45.85,392.05 L45.85,407.77 L44.01,407.77 L44.01,396.48 L40.35,396.48 L40.35,395.09 C42.31,395.00 43.78,394.44 44.31,392.05 Z" fill="#000"/>
<text x="61.85" y="397.67" font-size="14.2">−</text>
<text transform="translate(71.31,396.57) scale(1.0,1.05)" font-size="14.2">3</text>
<text transform="translate(38.20,484.46) scale(1.0,1.05)" font-size="21.3"> 0</text>
<path d="M45.85,468.74 L45.85,484.46 L44.01,484.46 L44.01,473.17 L40.35,473.17 L40.35,471.78 C42.31,471.69 43.78,471.13 44.31,468.74 Z" fill="#000"/>
<text x="61.85" y="475.76" font-size="14.2">−</text>
<text transform="translate(71.52,474.66) scale(1.0,1.05)" font-size="14.2">4</text>
<text transform="translate(38.20,560.55) scale(1.0,1.05)" font-size="21.3"> 0</text>
<path d="M45.85,544.83 L45.85,560.55 L44.01,560.55 L44.01,549.26 L40.35,549.26 L40.35,547.87 C42.31,547.78 43.78,547.22 44.31,544.83 Z" fill="#000"/>
<text x="61.85" y="550.70" font-size="14.2">−</text>
<text transform="translate(71.28,549.60) scale(1.0,1.05)" font-size="14.2">5</text>
<text transform="translate(38.20,635.19) scale(1.0,1.05)" font-size="21.3"> 0</text>
<path d="M45.85,619.47 L45.85,635.19 L44.01,635.19 L44.01,623.90 L40.35,623.90 L40.35,622.51 C42.31,622.42 43.78,621.86 44.31,619.47 Z" fill="#000"/>
<text x="61.85" y="626.89" font-size="14.2">−</text>
<text transform="translate(71.13,625.79) scale(1.0,1.05)" font-size="14.2">6</text>
<text transform="translate(64.39,682.70) scale(1.0,1.02)" font-size="22.85">2</text>
<path d="M74.25,788.32 L74.25,804.70 L72.28,804.70 L72.28,792.93 L68.35,792.93 L68.35,791.48 C70.46,791.39 72.03,790.81 72.60,788.32 Z" fill="#000"/>
<text transform="translate(45.04,925.00) scale(1.0,1.02)" font-size="22.85">0.5</text>
<text transform="translate(747.90,682.70) scale(1.0,1.02)" font-size="22.85">2</text>
<path d="M755.65,788.32 L755.65,804.70 L753.68,804.70 L753.68,792.93 L749.75,792.93 L749.75,791.48 C751.85,791.39 753.43,790.81 754.00,788.32 Z" fill="#000"/>
<text transform="translate(748.26,925.20) scale(1.0,1.02)" font-size="22.85">0.5</text>
<text transform="translate(97.46,978.10) scale(1.0,1.02)" font-size="22.85">0</text>
<text transform="translate(294.14,978.10) scale(1.0,1.02)" font-size="22.85"> 00</text>
<path d="M302.35,961.72 L302.35,978.10 L300.38,978.10 L300.38,966.33 L296.45,966.33 L296.45,964.88 C298.55,964.79 300.13,964.21 300.70,961.72 Z" fill="#000"/>
<text transform="translate(502.29,978.10) scale(1.0,1.02)" font-size="22.85">200</text>
<text transform="translate(711.18,978.10) scale(1.0,1.02)" font-size="22.85">300</text>
<text x="601.88" y="1002.70" font-size="24.4">p</text>
<text transform="translate(615.21,1016.50) scale(1.0,1.12)" font-size="15.3">T</text>
<text x="626.65" y="1002.70" font-size="24.17">(Z )</text>
<path d="M658.14,985.71 L658.14,1002.70 L656.06,1002.70 L656.06,990.49 L651.91,990.49 L651.91,989.00 C654.13,988.90 655.80,988.29 656.40,985.71 Z" fill="#000"/>
<text x="679.82" y="1002.70" font-size="24.7">(GeV)</text>
<g transform="translate(28.40,201.67) rotate(-90)"><text x="0.00" y="0.00" font-size="24.2">d</text></g>
<g transform="translate(28.40,189.36) rotate(-90)"><text transform="translate(0.00,0.00) scale(0.94,1.0)" font-size="24.2">σ</text></g>
<g transform="translate(28.40,174.45) rotate(-90)"><text x="0.00" y="0.00" font-size="24.2">/dp</text></g>
<g transform="translate(41.60,139.89) rotate(-90)"><text transform="translate(0.00,0.00) scale(1.0,1.1)" font-size="15.3">T</text></g>
<g transform="translate(28.40,122.64) rotate(-90)"><text x="0.00" y="0.00" font-size="24.0">(fb/GeV)</text></g>
<g transform="translate(35.70,855.11) rotate(-90)"><text x="0.00" y="0.00" font-size="17.8">Ratio to ATLAS</text></g>
</svg>
</body></html>
